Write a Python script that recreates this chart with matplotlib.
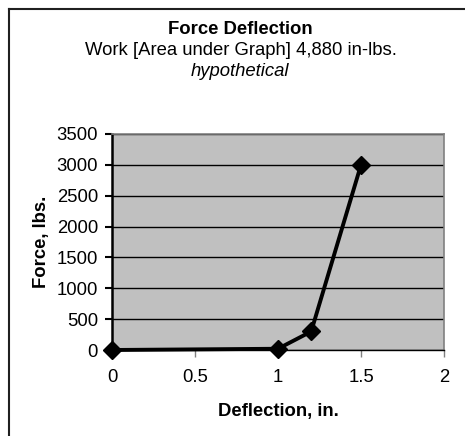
import matplotlib
matplotlib.use("Agg")
import matplotlib.pyplot as plt
from matplotlib.lines import Line2D

plt.rcParams['font.family'] = ['Liberation Sans', 'DejaVu Sans']

deflection = [0, 1, 1.2, 1.5]
force = [0, 20, 300, 3000]
y_ticks = [0, 500, 1000, 1500, 2000, 2500, 3000, 3500]
x_ticks = [0, 0.5, 1, 1.5, 2]
x_tick_labels = ['0', '0.5', '1', '1.5', '2']

FS = 13.3
W, H = 465, 436
fig = plt.figure(figsize=(W / 100, H / 100), dpi=100)
fig.patch.set_facecolor('white')

ax = fig.add_axes([112 / W, (H - 350) / H, 332 / W, 216 / H])
ax.set_facecolor('#C0C0C0')
ax.set_xlim(0, 2)
ax.set_ylim(0, 3500)
ax.set_yticks(y_ticks)
ax.set_xticks(x_ticks)
ax.set_xticklabels(x_tick_labels)
ax.yaxis.grid(True, color='black', linewidth=1)
ax.set_axisbelow(True)

ax.plot(deflection, force, color='black', linewidth=2.8, marker='D',
        markersize=9.5, markerfacecolor='black', markeredgecolor='black',
        clip_on=False, zorder=5)

for s in ['top', 'right']:
    ax.spines[s].set_color('#808080')
    ax.spines[s].set_linewidth(1.2)
ax.spines['left'].set_color('black')
ax.spines['left'].set_linewidth(1.8)
ax.spines['bottom'].set_color('black')
ax.spines['bottom'].set_linewidth(1.0)

ax.tick_params(axis='y', direction='out', length=5, width=1.5, colors='black',
               labelsize=FS, pad=5)
ax.tick_params(axis='x', direction='out', length=5, width=1, color='#808080',
               labelcolor='black', labelsize=FS, pad=9)

ax.set_ylabel('Force, lbs.', fontsize=FS, fontweight='bold', labelpad=5)
ax.set_xlabel('Deflection, in.', fontsize=FS, fontweight='bold', labelpad=12)

fig.text(240 / W, 1 - 29.5 / H, 'Force Deflection', ha='center', va='center',
         fontsize=FS, fontweight='bold')
fig.text(241 / W, 1 - 50.5 / H, 'Work [Area under Graph] 4,880 in-lbs.',
         ha='center', va='center', fontsize=FS)
fig.text(240 / W, 1 - 72 / H, 'hypothetical', ha='center', va='center',
         fontsize=FS, style='italic')

# chart border (left and top edges visible)
fig.add_artist(Line2D([8.5 / W, 8.5 / W], [0, 1 - 9.5 / H], transform=fig.transFigure,
                      color='#202020', linewidth=1.5))
fig.add_artist(Line2D([8.5 / W, 1], [1 - 9.5 / H, 1 - 9.5 / H], transform=fig.transFigure,
                      color='#202020', linewidth=1.5))

fig.savefig('out.png', dpi=100)
